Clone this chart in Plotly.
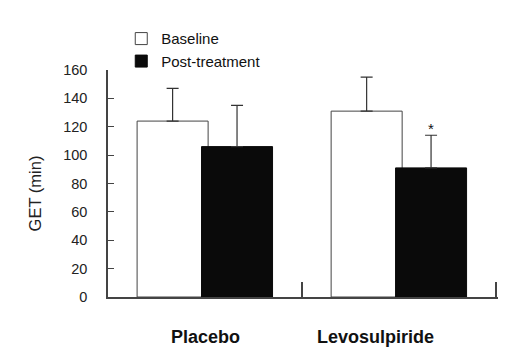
import plotly.graph_objects as go

categories = ["Placebo", "Levosulpiride"]
baseline = [124, 131]
baseline_err = [23, 24]
post = [106, 91]
post_err = [29, 23]
y_ticks = [0, 20, 40, 60, 80, 100, 120, 140, 160]
significance = ["", "*"]

xpos = list(range(len(categories)))
bar_w = 0.366

fig = go.Figure()
fig.add_trace(go.Bar(
    x=xpos, y=baseline, name="Baseline", width=bar_w, offset=-0.35,
    marker=dict(color="white", line=dict(color="#444", width=1)),
    error_y=dict(type="data", array=baseline_err, arrayminus=[0] * len(baseline),
                 symmetric=False, color="#333", thickness=1.2, width=6),
))
fig.add_trace(go.Bar(
    x=xpos, y=post, name="Post-treatment", width=bar_w, offset=-0.018,
    marker=dict(color="#0a0a0a", line=dict(color="#0a0a0a", width=1)),
    error_y=dict(type="data", array=post_err, arrayminus=[0] * len(post),
                 symmetric=False, color="#333", thickness=1.2, width=6),
))

annotations = []
label_shift = [0.0, -0.12]
for i, c in enumerate(categories):
    annotations.append(dict(
        x=i + label_shift[i], xref="x", y=-0.176, yref="paper", text="<b>%s</b>" % c,
        showarrow=False, font=dict(size=18, color="#111", family="Liberation Sans, Arial"),
        yanchor="middle", xanchor="center"))
for i, s in enumerate(significance):
    if s:
        annotations.append(dict(
            x=i - 0.018 + bar_w / 2, xref="x", y=post[i] + post_err[i] + 5, yref="y",
            text=s, showarrow=False, yanchor="middle",
            font=dict(size=15, color="#111", family="Liberation Sans, Arial")))
annotations.append(dict(
    x=-0.188, xref="paper", y=0.455, yref="paper", text="GET (min)", textangle=-90,
    xanchor="center", yanchor="middle",
    showarrow=False, font=dict(size=16.5, color="#222", family="Liberation Sans, Arial")))

fig.update_layout(
    width=522, height=353,
    margin=dict(l=108, r=24, t=70, b=56, autoexpand=False),
    paper_bgcolor="white", plot_bgcolor="white",
    barmode="overlay",
    font=dict(family="Liberation Sans, Arial", color="#222"),
    showlegend=True,
    legend=dict(x=0.034, xref="paper", y=1.21, yref="paper",
                xanchor="left", yanchor="top", font=dict(size=15, color="#111"),
                bgcolor="rgba(0,0,0,0)", tracegroupgap=0),
    annotations=annotations,
    xaxis=dict(range=[-0.5, len(categories) - 0.5 + 0.01], showgrid=False, zeroline=False,
               showline=True, linecolor="#444", linewidth=1.5,
               tickvals=[i + 0.5 for i in range(len(categories))], ticktext=["", ""],
               ticks="inside", ticklen=15, tickwidth=1.5, tickcolor="#444",
               showticklabels=False, fixedrange=True),
    yaxis=dict(range=[0, 160], tickvals=y_ticks, showgrid=False, zeroline=False,
               showline=True, linecolor="#444", linewidth=1.5,
               ticks="inside", ticklen=6, tickwidth=1, tickcolor="#444",
               ticklabelstandoff=16,
               tickfont=dict(size=14.5, color="#222"), fixedrange=True),
)

fig.write_html("out.html")
